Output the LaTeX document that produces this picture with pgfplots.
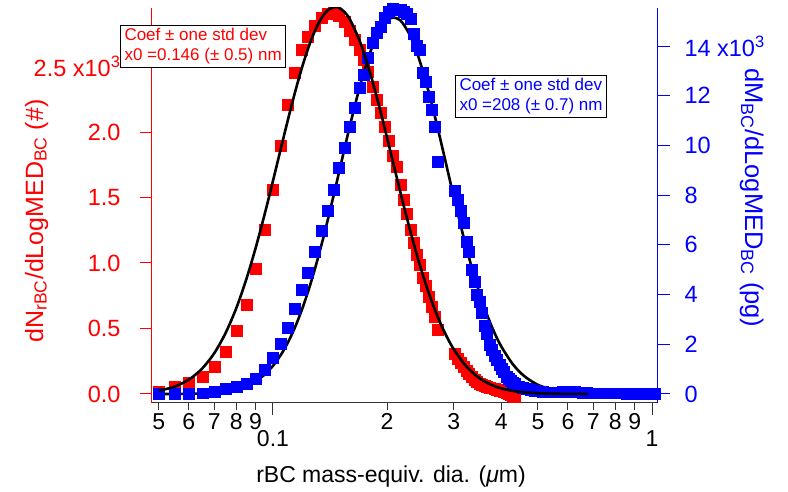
\documentclass[border=0pt]{standalone}
\usepackage{pgfplots}
\pgfplotsset{compat=1.18}
\usepackage{pgfplotstable}
\usepackage{fontspec}
\setmainfont{Liberation Sans}
\definecolor{igred}{rgb}{1,0,0}
\definecolor{igblue}{rgb}{0,0,1}
\definecolor{axgray}{rgb}{0.2,0.2,0.2}

\pgfplotstableread{
d N
0.05004 0.015
0.05512 0.053
0.06005 0.084
0.06535 0.130
0.07031 0.206
0.07516 0.321
0.08035 0.481
0.08538 0.679
0.09019 0.954
0.09526 1.252
0.10000 1.557
0.10498 1.893
0.10954 2.206
0.11432 2.450
0.11928 2.626
0.12370 2.725
0.12905 2.809
0.13467 2.870
0.13966 2.901
0.14484 2.908
0.14932 2.885
0.15486 2.840
0.15963 2.771
0.16455 2.702
0.16963 2.626
0.17380 2.550
0.17807 2.458
0.18356 2.344
0.18808 2.244
0.19270 2.145
0.19743 2.038
0.20229 1.931
0.20726 1.817
0.21236 1.733
0.21757 1.595
0.22158 1.481
0.22566 1.374
0.23120 1.252
0.23545 1.153
0.23978 1.061
0.24419 0.985
0.24868 0.885
0.25325 0.824
0.25791 0.740
0.26266 0.664
0.26749 0.588
0.27240 0.489
0.30216 0.305
0.30771 0.267
0.31338 0.237
0.31914 0.206
0.32501 0.176
0.32899 0.153
0.33504 0.130
0.34120 0.107
0.34538 0.092
0.35173 0.076
0.35603 0.069
0.36258 0.061
0.36701 0.053
0.37376 0.046
0.37833 0.042
0.38529 0.038
0.39000 0.031
0.39717 0.023
0.40203 0.023
0.40694 0.015
0.41442 0.008
0.41949 0.000
0.42462 -0.008
0.42981 -0.015
0.43506 -0.023
}\reddata

\pgfplotstableread{
d M
0.05004 0.00
0.05512 0.00
0.06005 0.00
0.06535 0.02
0.07031 0.08
0.07516 0.20
0.08035 0.28
0.08538 0.40
0.09019 0.60
0.09526 0.97
0.10000 1.45
0.10498 2.01
0.10954 2.66
0.11432 3.42
0.11928 4.19
0.12370 4.87
0.12905 5.71
0.13467 6.56
0.13966 7.36
0.14484 8.21
0.14932 9.09
0.15486 9.90
0.15963 10.74
0.16455 11.51
0.16963 12.31
0.17380 12.84
0.17807 13.52
0.18356 14.12
0.18808 14.53
0.19270 14.77
0.19743 15.13
0.20229 15.37
0.20726 15.49
0.21236 15.57
0.21757 15.45
0.22158 15.37
0.22566 15.29
0.23120 15.09
0.23545 14.49
0.23978 14.00
0.24419 13.84
0.24868 12.92
0.25325 12.56
0.25791 11.95
0.26266 11.43
0.26749 10.74
0.27240 9.34
0.30216 8.17
0.30771 7.81
0.31338 7.36
0.31914 6.88
0.32501 6.12
0.32899 5.71
0.33504 4.99
0.34120 4.51
0.34538 3.98
0.35173 3.70
0.35603 3.26
0.36258 2.74
0.36701 2.41
0.37376 1.97
0.37833 1.77
0.38529 1.53
0.39000 1.37
0.39717 1.17
0.40203 1.01
0.40694 0.89
0.41442 0.68
0.41949 0.60
0.42462 0.52
0.42981 0.44
0.43506 0.40
0.4458 0.30
0.4567 0.24
0.4679 0.20
0.4794 0.16
0.4912 0.12
0.5033 0.10
0.5157 0.08
0.5284 0.06
0.5413 0.05
0.5546 0.05
0.5683 0.06
0.5822 0.08
0.5966 0.10
0.6112 0.10
0.6262 0.08
0.6416 0.06
0.6574 0.04
0.6736 0.04
0.6901 0.03
0.7071 0.03
0.7245 0.02
0.7423 0.02
0.7605 0.02
0.7792 0.01
0.7984 0.01
0.8180 0.01
0.8381 0.01
0.8587 0.00
0.8798 0.00
0.9014 0.00
0.9236 0.00
0.9463 0.00
0.9695 0.00
0.9939 0.00
1.018 0.00
}\bluedata

\pgfplotstableread{
d N
0.050 0.0248
0.055 0.0558
0.060 0.1097
0.065 0.1933
0.070 0.3113
0.075 0.4656
0.080 0.6545
0.085 0.8735
0.090 1.1147
0.095 1.3694
0.100 1.6274
0.105 1.8794
0.110 2.1163
0.115 2.3309
0.120 2.5176
0.125 2.6726
0.130 2.7938
0.135 2.8804
0.140 2.9334
0.146 2.9550
0.150 2.9460
0.155 2.9113
0.160 2.8536
0.170 2.6832
0.180 2.4620
0.190 2.2134
0.200 1.9562
0.208 1.7538
0.215 1.5835
0.220 1.4671
0.230 1.2501
0.240 1.0561
0.250 0.8857
0.260 0.7382
0.270 0.6121
0.280 0.5053
0.290 0.4156
0.300 0.3407
0.320 0.2274
0.340 0.1507
0.360 0.0994
0.380 0.0654
0.400 0.0430
0.430 0.0229
0.460 0.0123
0.500 0.0054
0.550 0.0019
0.600 0.0007
0.678 0.0002
}\redfit

\pgfplotstableread{
d M
0.050 0.0008
0.055 0.0029
0.060 0.0087
0.065 0.0220
0.070 0.0493
0.075 0.0995
0.080 0.1841
0.085 0.3166
0.090 0.5108
0.095 0.7801
0.100 1.1356
0.105 1.5852
0.110 2.1334
0.115 2.7776
0.120 3.5138
0.125 4.3300
0.130 5.2124
0.135 6.1438
0.140 7.1060
0.146 8.2724
0.150 9.0413
0.155 9.9759
0.160 10.8647
0.170 12.4461
0.180 13.6949
0.190 14.5622
0.200 15.0379
0.208 15.1500
0.215 15.0701
0.220 14.9215
0.230 14.4280
0.240 13.7230
0.250 12.8660
0.260 11.9105
0.270 10.9052
0.280 9.8869
0.290 8.8859
0.300 7.9255
0.320 6.1816
0.340 4.7188
0.360 3.5409
0.380 2.6215
0.400 1.9202
0.430 1.1856
0.460 0.7226
0.500 0.3687
0.550 0.1573
0.600 0.0671
0.678 0.0178
}\bluefit

\begin{document}
\begin{tikzpicture}
\path[use as bounding box] (0,0) rectangle (788pt,492pt);

% red axis (left) with bottom x axis
\begin{axis}[
  scale only axis, width=506pt, height=395pt,
  at={(152pt,89pt)}, anchor=south west,
  xmode=log, xmin=0.04795, xmax=1.0371,
  ymin=-0.069, ymax=2.947,
  axis x line*=bottom, axis y line*=left,
  axis line style={-},
  tick align=outside, major tick length=12pt,
  minor xtick={}, minor ytick={},
  x axis line style={axgray, line width=1pt},
  y axis line style={igred, line width=1pt},
  xtick={0.1,1}, xticklabels={0.1,1},
  xtick style={axgray, line width=1pt},
  xticklabel style={font=\fontsize{23}{23}\selectfont, text=black, anchor=base, yshift=-32pt},
  extra x ticks={0.05,0.06,0.07,0.08,0.09,0.2,0.3,0.4,0.5,0.6,0.7,0.8,0.9},
  extra x tick labels={5,6,7,8,9,2,3,4,5,6,7,8,9},
  extra x tick style={major tick length=7pt,
    tick label style={font=\fontsize{17}{17}\selectfont, anchor=base, yshift=12pt}},
  ytick={0,0.5,1,1.5,2,2.5},
  yticklabels={0.0,0.5,1.0,1.5,2.0,2.5 x10\textsuperscript{3}},
  ytick style={igred, line width=1pt},
  yticklabel style={font=\fontsize{23.5}{23.5}\selectfont, text=igred, anchor=east, xshift=-16pt},
]
\addplot[igred, only marks, mark=square*, mark size=5.2pt,
  mark options={solid, draw=igred, fill=igred, line width=0pt}]
  table[x=d, y=N] {\reddata};
\end{axis}

% blue axis (right)
\begin{axis}[
  scale only axis, width=506pt, height=395pt,
  at={(152pt,89pt)}, anchor=south west,
  xmode=log, xmin=0.04795, xmax=1.0371,
  ymin=-0.362, ymax=15.533,
  axis y line*=right, axis x line=none,
  axis line style={-},
  tick align=outside, major tick length=12pt,
  minor ytick={},
  y axis line style={igblue, line width=1pt},
  ytick={0,2,4,6,8,10,12,14},
  yticklabels={0,2,4,6,8,10,12,14 x10\textsuperscript{3}},
  ytick style={igblue, line width=1pt},
  yticklabel style={font=\fontsize{23.5}{23.5}\selectfont, text=igblue, anchor=west, xshift=11pt},
]
\addplot[igblue, only marks, mark=square*, mark size=5.2pt,
  mark options={solid, draw=igblue, fill=igblue, line width=0pt}]
  table[x=d, y=M] {\bluedata};
\addplot[black, line width=2.6pt, smooth, no marks] table[x=d, y=M] {\bluefit};
\end{axis}

% red fit on red scale
\begin{axis}[
  scale only axis, width=506pt, height=395pt,
  at={(152pt,89pt)}, anchor=south west,
  xmode=log, xmin=0.04795, xmax=1.0371,
  ymin=-0.069, ymax=2.947, hide axis]
\addplot[black, line width=2.6pt, smooth, no marks] table[x=d, y=N] {\redfit};
\end{axis}

% axis titles
\node[rotate=90, anchor=base, text=igred, font=\fontsize{25}{25}\selectfont]
  at (43pt,271pt) {dN\textsubscript{rBC}/dLogMED\textsubscript{BC} (\#)};
\node[rotate=-90, anchor=base, text=igblue, font=\fontsize{25.5}{25.5}\selectfont]
  at (745pt,294pt) {dM\textsubscript{BC}/dLogMED\textsubscript{BC} (pg)};
\node[anchor=base, font=\fontsize{23}{23}\selectfont]
  at (391pt,9pt) {rBC mass-equiv. dia. (\textit{μ}m)};

% annotation boxes
\node[draw=black, line width=1pt, fill=white, anchor=north west, inner xsep=4pt, inner ysep=3pt,
  align=left, text=igred, font=\fontsize{17}{20}\selectfont]
  at (120pt,467pt) {Coef ± one std dev\\x0 =0.146 (± 0.5) nm};
\node[draw=black, line width=1pt, fill=white, anchor=north west, inner xsep=4pt, inner ysep=3pt,
  align=left, text=igblue, font=\fontsize{17}{20}\selectfont]
  at (455pt,417pt) {Coef ± one std dev\\x0 =208 (± 0.7) nm};
\end{tikzpicture}
\end{document}
